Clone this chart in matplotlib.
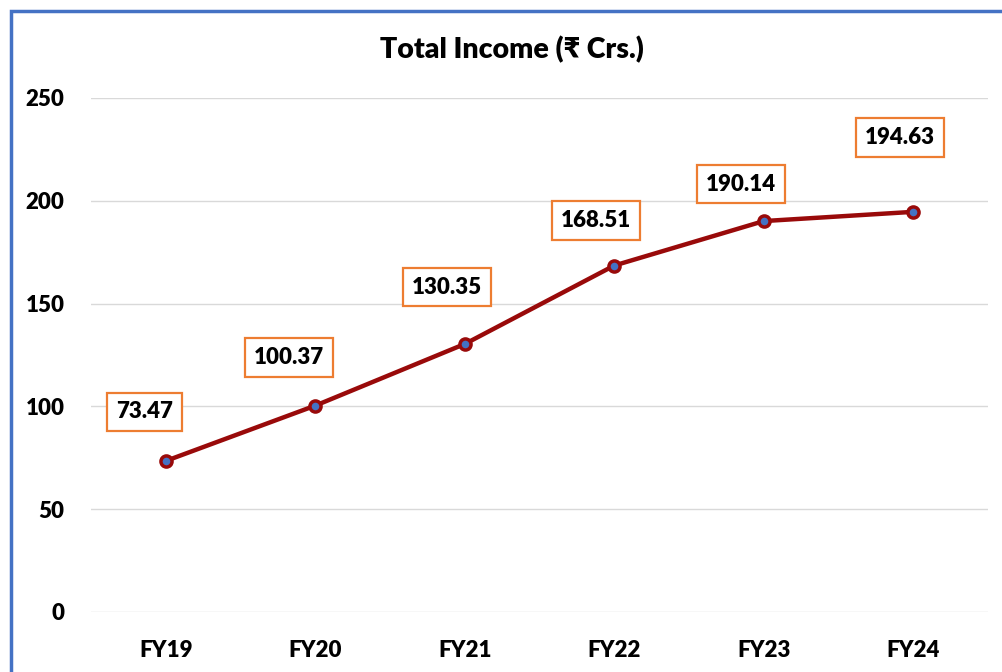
import matplotlib.pyplot as plt
from matplotlib.patches import Rectangle

years = ["FY19", "FY20", "FY21", "FY22", "FY23", "FY24"]
income = [73.47, 100.37, 130.35, 168.51, 190.14, 194.63]
y_ticks = [0, 50, 100, 150, 200, 250]

# label offsets in pixels (dx, dy) from each point
label_offsets = [(-21, 49), (-26, 48), (-18, 57), (-18, 45), (-23, 37), (-13, 74)]

plt.rcParams['font.family'] = ['Lato', 'DejaVu Sans']
plt.rcParams['font.weight'] = 'bold'

fig = plt.figure(figsize=(10.03, 6.72), dpi=100)
ax = fig.add_axes([91 / 1003, 1 - 612 / 672, (988 - 91) / 1003, (612 - 98) / 672])

x = range(len(years))
ax.plot(x, income, color='#990A0A', linewidth=3.2, marker='o', markersize=8,
        markerfacecolor='#4472C4', markeredgecolor='#990A0A', markeredgewidth=2.5,
        zorder=3)

px = 72 / 100
for i, v in enumerate(income):
    dx, dy = label_offsets[i]
    ax.annotate(f"{v:.2f}", (i, v), xytext=(dx * px, dy * px), textcoords='offset points',
                ha='center', va='center', fontsize=16, fontweight='heavy',
                bbox=dict(boxstyle='square,pad=0.4', fc='white', ec='#ED7D31', lw=1.6))

ax.set_xlim(-0.5, len(years) - 0.5)
ax.set_ylim(0, 250)
ax.set_xticks(list(x))
ax.set_xticklabels(years)
ax.set_yticks(y_ticks)
ax.tick_params(length=0, labelsize=16)
ax.tick_params(axis='x', pad=20)
ax.tick_params(axis='y', pad=19)
for lbl in ax.get_xticklabels() + ax.get_yticklabels():
    lbl.set_fontweight('heavy')
ax.grid(axis='y', color='#D9D9D9', linewidth=1)
ax.set_axisbelow(True)
for s in ax.spines.values():
    s.set_visible(False)

fig.text(512 / 1003, 1 - 50 / 672, "Total Income (₹ Crs.)", ha='center', va='center',
         fontsize=20.5, fontweight='heavy')

fig.patches.append(Rectangle((11 / 1003, -0.1), 1.2, 1 - 11 / 672 + 0.1,
                             transform=fig.transFigure, fill=False,
                             ec='#4472C4', lw=2.5))

fig.savefig("out.png", dpi=100)
